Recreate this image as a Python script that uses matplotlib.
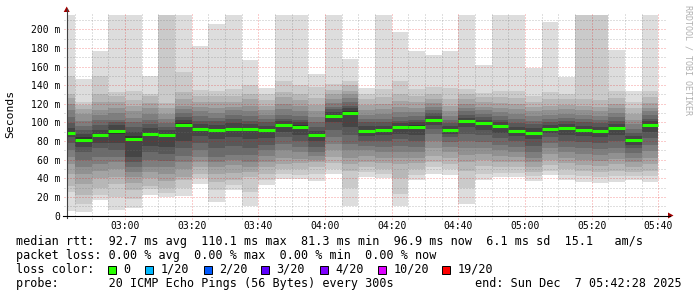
import matplotlib
matplotlib.use('Agg')
import matplotlib.pyplot as plt
from matplotlib.patches import Polygon, Rectangle
from matplotlib.lines import Line2D

W, H = 697, 297

# 20 sorted ping rtts (ms) per 5 minute step, first step starts 02:40
pings = [
    [5, 25, 32, 45, 55, 63, 70, 78, 84, 87, 90, 94, 99, 106, 113, 120, 126, 131, 150, 230],
    [4, 12, 22, 34, 45, 52, 60, 68, 74, 79, 84, 88, 92, 96, 102, 109, 114, 119, 122, 147],
    [17, 22, 30, 40, 48, 55, 63, 72, 78, 84, 88, 92, 97, 103, 108, 113, 122, 131, 150, 177],
    [6, 20, 34, 41, 50, 57, 63, 70, 78, 88, 92, 97, 100, 103, 110, 116, 122, 128, 133, 230],
    [8, 18, 27, 35, 41, 47, 52, 58, 63, 80, 85, 90, 95, 100, 105, 112, 118, 124, 134, 230],
    [22, 28, 32, 40, 47, 52, 60, 68, 75, 85, 89, 94, 98, 103, 109, 115, 121, 128, 131, 150],
    [20, 24, 30, 37, 45, 52, 59, 66, 74, 84, 88, 92, 95, 99, 104, 109, 115, 121, 230, 240],
    [21, 30, 38, 41, 50, 58, 64, 72, 80, 96, 99, 103, 106, 110, 114, 118, 125, 133, 154, 230],
    [34, 40, 45, 52, 58, 63, 70, 78, 85, 91, 94, 98, 102, 107, 112, 117, 122, 128, 135, 182],
    [15, 27, 36, 45, 52, 58, 63, 72, 82, 90, 93, 97, 101, 105, 110, 116, 122, 128, 134, 206],
    [27, 33, 38, 46, 54, 60, 65, 75, 84, 91, 94, 99, 104, 108, 113, 117, 122, 128, 136, 230],
    [10, 25, 41, 47, 52, 58, 65, 73, 82, 91, 94, 98, 102, 107, 112, 118, 125, 131, 140, 167],
    [33, 38, 45, 52, 58, 64, 70, 76, 83, 90, 93, 96, 100, 104, 108, 113, 118, 124, 130, 137],
    [39, 45, 50, 55, 62, 70, 77, 84, 90, 96, 98, 101, 104, 108, 114, 120, 127, 133, 145, 230],
    [39, 44, 50, 56, 61, 68, 74, 80, 87, 94, 97, 100, 103, 107, 112, 118, 124, 131, 140, 230],
    [37, 45, 52, 57, 60, 64, 68, 74, 80, 85, 88, 91, 95, 100, 106, 112, 119, 126, 138, 152],
    [45, 50, 56, 63, 70, 77, 84, 92, 100, 106, 108, 111, 114, 117, 121, 125, 130, 135, 141, 230],
    [10, 30, 48, 55, 62, 70, 77, 86, 95, 108, 112, 115, 118, 122, 126, 130, 134, 140, 145, 168],
    [41, 47, 52, 58, 64, 70, 75, 80, 85, 89, 92, 96, 100, 104, 108, 113, 119, 125, 131, 137],
    [40, 45, 50, 56, 62, 68, 74, 80, 86, 91, 93, 96, 100, 104, 109, 114, 120, 127, 136, 230],
    [10, 23, 40, 55, 62, 68, 75, 82, 88, 94, 96, 99, 102, 106, 111, 117, 123, 130, 145, 197],
    [38, 44, 50, 56, 62, 68, 74, 80, 87, 94, 97, 100, 103, 107, 111, 116, 122, 128, 136, 177],
    [45, 52, 58, 64, 72, 80, 88, 93, 97, 101, 104, 107, 110, 113, 117, 121, 125, 130, 138, 172],
    [44, 50, 55, 62, 68, 74, 79, 84, 88, 91, 93, 96, 99, 103, 107, 112, 118, 125, 137, 177],
    [12, 30, 48, 58, 65, 72, 80, 88, 95, 100, 102, 105, 108, 112, 116, 120, 125, 130, 136, 230],
    [38, 45, 53, 60, 66, 72, 79, 86, 92, 98, 100, 103, 106, 109, 113, 117, 122, 127, 132, 162],
    [41, 46, 52, 58, 64, 70, 76, 83, 89, 94, 97, 100, 103, 107, 111, 116, 121, 127, 134, 230],
    [41, 46, 52, 58, 63, 68, 74, 80, 85, 89, 92, 95, 99, 104, 109, 114, 120, 126, 134, 230],
    [37, 42, 47, 52, 57, 62, 68, 75, 82, 87, 90, 94, 98, 102, 107, 112, 117, 122, 128, 158],
    [43, 48, 54, 60, 66, 72, 78, 84, 89, 92, 94, 97, 100, 104, 108, 113, 118, 125, 133, 208],
    [38, 44, 50, 56, 62, 68, 74, 80, 86, 92, 95, 98, 101, 105, 109, 114, 119, 125, 131, 149],
    [36, 42, 48, 54, 60, 66, 72, 79, 85, 90, 93, 96, 100, 104, 108, 113, 118, 125, 230, 240],
    [35, 41, 47, 53, 59, 65, 71, 78, 84, 89, 92, 95, 99, 103, 107, 112, 117, 124, 230, 240],
    [36, 42, 48, 55, 61, 67, 73, 80, 86, 92, 95, 98, 102, 106, 110, 115, 120, 126, 134, 178],
    [38, 42, 47, 52, 57, 62, 67, 72, 76, 80, 82, 85, 89, 93, 98, 103, 109, 115, 122, 134],
    [36, 42, 48, 55, 62, 69, 76, 83, 90, 96, 98, 101, 104, 108, 112, 116, 121, 127, 134, 230],
]

median = [88.5, 81.4, 86.0, 90.3, 82.4, 87.1, 86.0, 97.5, 92.5, 91.4, 92.8, 92.5,
          91.4, 97.1, 95.3, 86.4, 107.2, 110.1, 90.7, 92.1, 95.0, 95.3, 102.2, 92.1,
          101.0, 99.3, 95.7, 90.3, 88.5, 92.8, 93.5, 91.4, 90.3, 93.5, 81.3, 96.9]

xlabels = ["03:00", "03:20", "03:40", "04:00", "04:20", "04:40", "05:00", "05:20", "05:40"]
loss_labels = ["0", "1/20", "2/20", "3/20", "4/20", "10/20", "19/20"]
loss_colors = ["#26ff00", "#00b8ff", "#0059ff", "#5e00ff", "#7e00ff", "#dd00ff", "#ff0000"]

legend_lines = [
    "median rtt:  92.7 ms avg  110.1 ms max  81.3 ms min  96.9 ms now  6.1 ms sd  15.1   am/s",
    "packet loss: 0.00 % avg  0.00 % max  0.00 % min  0.00 % now",
]
probe_text = "probe:       20 ICMP Echo Pings (56 Bytes) every 300s"
end_text = "end: Sun Dec  7 05:42:28 2025"

step = 5
times = [160 + step * i for i in range(len(pings))]

MONO = "DejaVu Sans Mono"


def fx(px):
    return px / W


def fy(py):
    return 1 - py / H


fig = plt.figure(figsize=(W / 100, H / 100), dpi=100)
left, right, top, bottom = 66.7, 666.7, 15.0, 215.5
ax = fig.add_axes([fx(left), fy(bottom), (right - left) / W, (bottom - top) / H])
ax.set_xlim(162.5, 342.5)
ax.set_ylim(0, (bottom - top) / 0.931)
for s in ax.spines.values():
    s.set_visible(False)

# smoke: nested bands, outermost lightest
half = 10
for ib in range(half):
    lvl = int(190 / half * (half - ib - 1)) + 50
    col = "#%02x%02x%02x" % (lvl, lvl, lvl)
    lo = [p[ib] for p in pings]
    hi = [p[19 - ib] for p in pings]
    ax.bar(times, [h - l for h, l in zip(hi, lo)], bottom=lo, width=step,
           align="edge", color=col, linewidth=0, antialiased=False, zorder=1)

ax.hlines(median, times, [t + step for t in times], colors="#26ff00",
          linewidth=2.2, zorder=5)

# dotted grid, red for major lines
minor_c = (0.45, 0.45, 0.45, 0.45)
major_c = (0.9, 0, 0, 0.4)
ymax = ax.get_ylim()[1]
for v in range(10, int(ymax) + 1, 10):
    ax.axhline(v, xmin=-3 / 600, xmax=1, color=major_c if v % 20 == 0 else minor_c,
               lw=0.72, ls=(0, (1, 2)), clip_on=False, zorder=3)
for t in range(165, 343, 5):
    ax.axvline(t, ymin=-3 / 200.5, ymax=1.01, color=major_c if t % 20 == 0 else minor_c,
               lw=0.72, ls=(0, (1, 2)), clip_on=False, zorder=3)

ax.set_yticks(range(0, 201, 20))
ax.set_yticklabels(["0"] + ["%d m" % v for v in range(20, 201, 20)])
ax.set_xticks(range(180, 341, 20))
ax.set_xticklabels(xlabels)
ax.tick_params(length=0, labelsize=7, colors="#000000")
ax.tick_params(axis="y", pad=4.8)
ax.tick_params(axis="x", pad=4.0)
for lab in ax.get_xticklabels() + ax.get_yticklabels():
    lab.set_family(MONO)

# axes with arrows
fig.add_artist(Line2D([fx(left), fx(left)], [fy(bottom + 2), fy(9)], color="#404040", lw=0.8))
fig.add_artist(Line2D([fx(63), fx(670)], [fy(bottom), fy(bottom)], color="#000000", lw=0.8))
fig.add_artist(Polygon([(fx(left - 3), fy(12)), (fx(left + 3), fy(12)), (fx(left), fy(6.5))],
                       closed=True, color="#a00000", lw=0))
fig.add_artist(Polygon([(fx(668), fy(bottom - 3)), (fx(668), fy(bottom + 3)), (fx(673.5), fy(bottom))],
                       closed=True, color="#a00000", lw=0))

fig.text(fx(10), fy(113.5), "Seconds", rotation=90, ha="center", va="center",
         fontsize=8.2, family=MONO)
fig.text(fx(688), fy(5), "RRDTOOL / TOBI OETIKER", rotation=270, ha="center", va="top",
         fontsize=6, family=MONO, color="#b0b0b0")

# legend
fs = 8.5
fig.text(fx(16.5), fy(241.7), legend_lines[0], fontsize=fs, family=MONO, va="center")
fig.text(fx(16.5), fy(255.7), legend_lines[1], fontsize=fs, family=MONO, va="center")
fig.text(fx(16.5), fy(269.3), "loss color:", fontsize=fs, family=MONO, va="center")
box_x = [108, 145, 203.5, 261, 319.5, 378, 442]
for bx, lab, col in zip(box_x, loss_labels, loss_colors):
    fig.add_artist(Rectangle((fx(bx), fy(273.5)), 8 / W, 8 / H, facecolor=col,
                             edgecolor="black", lw=0.7))
    fig.text(fx(bx + 15.5), fy(269.3), lab, fontsize=fs, family=MONO, va="center")
fig.text(fx(16.5), fy(283.3), probe_text, fontsize=fs, family=MONO, va="center")
fig.text(fx(682), fy(283.3), end_text, fontsize=fs, family=MONO, va="center", ha="right")

fig.savefig("out.png", dpi=100)
